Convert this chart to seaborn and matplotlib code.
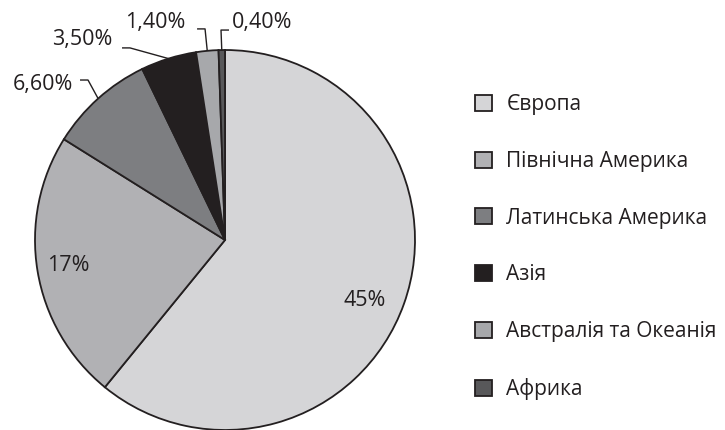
import matplotlib
matplotlib.use("Agg")
import matplotlib.pyplot as plt
import seaborn as sns
import numpy as np

regions = ["Європа", "Північна Америка", "Латинська Америка", "Азія", "Австралія та Океанія", "Африка"]
values = [45, 17, 6.6, 3.5, 1.4, 0.4]
value_labels = ["45%", "17%", "6,60%", "3,50%", "1,40%", "0,40%"]
colors = ["#d5d5d7", "#b1b1b4", "#7d7e81", "#231f20", "#a7a8ab", "#58585a"]

sns.set_theme(style="white")
plt.rcParams['font.family'] = ['Open Sans', 'DejaVu Sans']

fig = plt.figure(figsize=(7.25, 4.3), dpi=100)
ax = fig.add_axes([0, 0, 1, 1])
pal = sns.color_palette(colors)

wedges, _ = ax.pie(values, colors=pal, startangle=90, counterclock=False,
                   radius=1, center=(0, 0),
                   wedgeprops=dict(edgecolor="#231f20", linewidth=1.3))
ax.set_xlim(-225/190, 500/190)
ax.set_ylim(-190/190, 240/190)
ax.set_aspect("equal")
ax.axis("off")

txt_kw = dict(fontsize=15.5, color="#231f20")
# inside labels
ax.text(0.737, -0.316, value_labels[0], ha="center", va="center", **txt_kw)
ax.text(-0.826, -0.132, value_labels[1], ha="center", va="center", **txt_kw)

# leader lines for small slices: (elbow, end, text pos, ha)
leaders = {
    2: ((-0.721, 0.842), (-0.763, 0.842), (-0.80, 0.821), "right"),
    3: ((-0.50, 1.011), (-0.542, 1.011), (-0.595, 1.053), "right"),
    4: ((-0.105, 1.111), (-0.147, 1.111), (-0.21, 1.147), "right"),
    5: ((-0.021, 1.105), (0.021, 1.105), (0.037, 1.147), "left"),
}
for i, (elbow, end, tpos, ha) in leaders.items():
    w = wedges[i]
    mid = np.deg2rad((w.theta1 + w.theta2) / 2)
    edge = (np.cos(mid), np.sin(mid))
    ax.plot([edge[0], elbow[0], end[0]], [edge[1], elbow[1], end[1]],
            color="#231f20", lw=1.0, solid_capstyle="butt", clip_on=False)
    ax.text(tpos[0], tpos[1], value_labels[i], ha=ha, va="center", clip_on=False, **txt_kw)

leg = fig.legend(wedges, regions, loc="upper left", bbox_to_anchor=(475/725, 1 - 94/430),
                 frameon=False, fontsize=15, labelspacing=1.72, handlelength=0.8,
                 handleheight=0.8, handletextpad=0.7, borderaxespad=0, borderpad=0)
for t in leg.get_texts():
    t.set_color("#231f20")

fig.savefig("out.png", dpi=100)
